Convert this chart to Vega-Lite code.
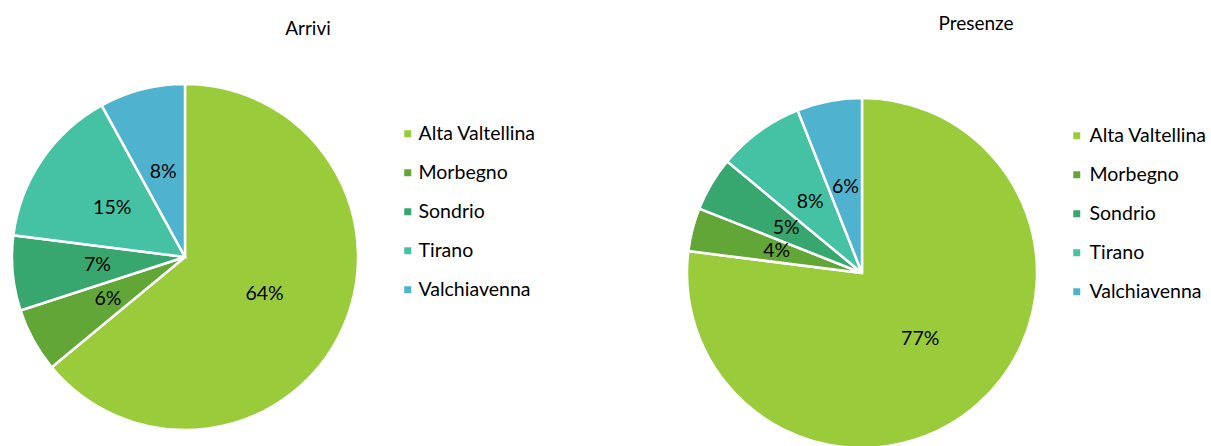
{
  "$schema": "https://vega.github.io/schema/vega-lite/v6.json",
  "padding": {"top": 15, "left": 0, "right": 0, "bottom": 0},
  "autosize": {"type": "pad"},
  "background": "white",
  "config": {"view": {"stroke": null}, "font": "Lato", "title": {"font": "Lato", "color": "#000000"}},
  "bounds": "flush",
  "spacing": 317,
  "resolve": {"scale": {"color": "independent", "theta": "independent"}},
  "hconcat": [
    {
      "width": 370,
      "height": 346,
      "title": {"text": "Arrivi", "dx": 123, "offset": 40, "fontSize": 19, "fontWeight": "normal", "anchor": "middle"},
      "data": {"values": [
        {"zona": "Alta Valtellina", "idx": 1, "share": 0.64},
        {"zona": "Morbegno", "idx": 2, "share": 0.06},
        {"zona": "Sondrio", "idx": 3, "share": 0.07},
        {"zona": "Tirano", "idx": 4, "share": 0.15},
        {"zona": "Valchiavenna", "idx": 5, "share": 0.08}
      ]},
      "encoding": {
        "theta": {"field": "share", "type": "quantitative", "stack": true},
        "order": {"field": "idx", "type": "quantitative"},
        "color": {
          "field": "zona", "type": "nominal",
          "scale": {"domain": ["Alta Valtellina", "Morbegno", "Sondrio", "Tirano", "Valchiavenna"],
                    "range": ["#9ACB3A", "#63A638", "#38A76F", "#45C2A4", "#4FB3CF"]},
          "legend": {"orient": "none", "legendX": 398, "legendY": 40, "title": null, "symbolType": "square",
                     "symbolSize": 49, "symbolStrokeWidth": 0, "labelFontSize": 19.5, "labelFont": "Lato", "labelColor": "#000000",
                     "labelOffset": 1, "rowPadding": 18, "padding": 0}
        }
      },
      "layer": [
        {"mark": {"type": "arc", "outerRadius": 173, "stroke": "white", "strokeWidth": 2.5}},
        {"mark": {"type": "text", "radius": 88, "fontSize": 19.5, "font": "Lato"},
         "encoding": {"text": {"field": "share", "type": "quantitative", "format": ".0%"},
                      "color": {"value": "#000000"},
                      "detail": {"field": "zona", "type": "nominal"}}}
      ]
    },
    {
      "width": 350,
      "height": 378,
      "title": {"text": "Presenze", "dx": 114, "offset": 50, "fontSize": 19, "fontWeight": "normal", "anchor": "middle"},
      "data": {"values": [
        {"zona": "Alta Valtellina", "idx": 1, "share": 0.77},
        {"zona": "Morbegno", "idx": 2, "share": 0.04},
        {"zona": "Sondrio", "idx": 3, "share": 0.05},
        {"zona": "Tirano", "idx": 4, "share": 0.08},
        {"zona": "Valchiavenna", "idx": 5, "share": 0.06}
      ]},
      "encoding": {
        "theta": {"field": "share", "type": "quantitative", "stack": true},
        "order": {"field": "idx", "type": "quantitative"},
        "color": {
          "field": "zona", "type": "nominal",
          "scale": {"domain": ["Alta Valtellina", "Morbegno", "Sondrio", "Tirano", "Valchiavenna"],
                    "range": ["#9ACB3A", "#63A638", "#38A76F", "#45C2A4", "#4FB3CF"]},
          "legend": {"orient": "none", "legendX": 380, "legendY": 42, "title": null, "symbolType": "square",
                     "symbolSize": 49, "symbolStrokeWidth": 0, "labelFontSize": 19.5, "labelFont": "Lato", "labelColor": "#000000",
                     "labelOffset": 3, "rowPadding": 18, "padding": 0}
        }
      },
      "layer": [
        {"mark": {"type": "arc", "outerRadius": 175, "stroke": "white", "strokeWidth": 2.5}},
        {"mark": {"type": "text", "radius": 88, "fontSize": 19.5, "font": "Lato"},
         "encoding": {"text": {"field": "share", "type": "quantitative", "format": ".0%"},
                      "color": {"value": "#000000"},
                      "detail": {"field": "zona", "type": "nominal"}}}
      ]
    }
  ]
}
